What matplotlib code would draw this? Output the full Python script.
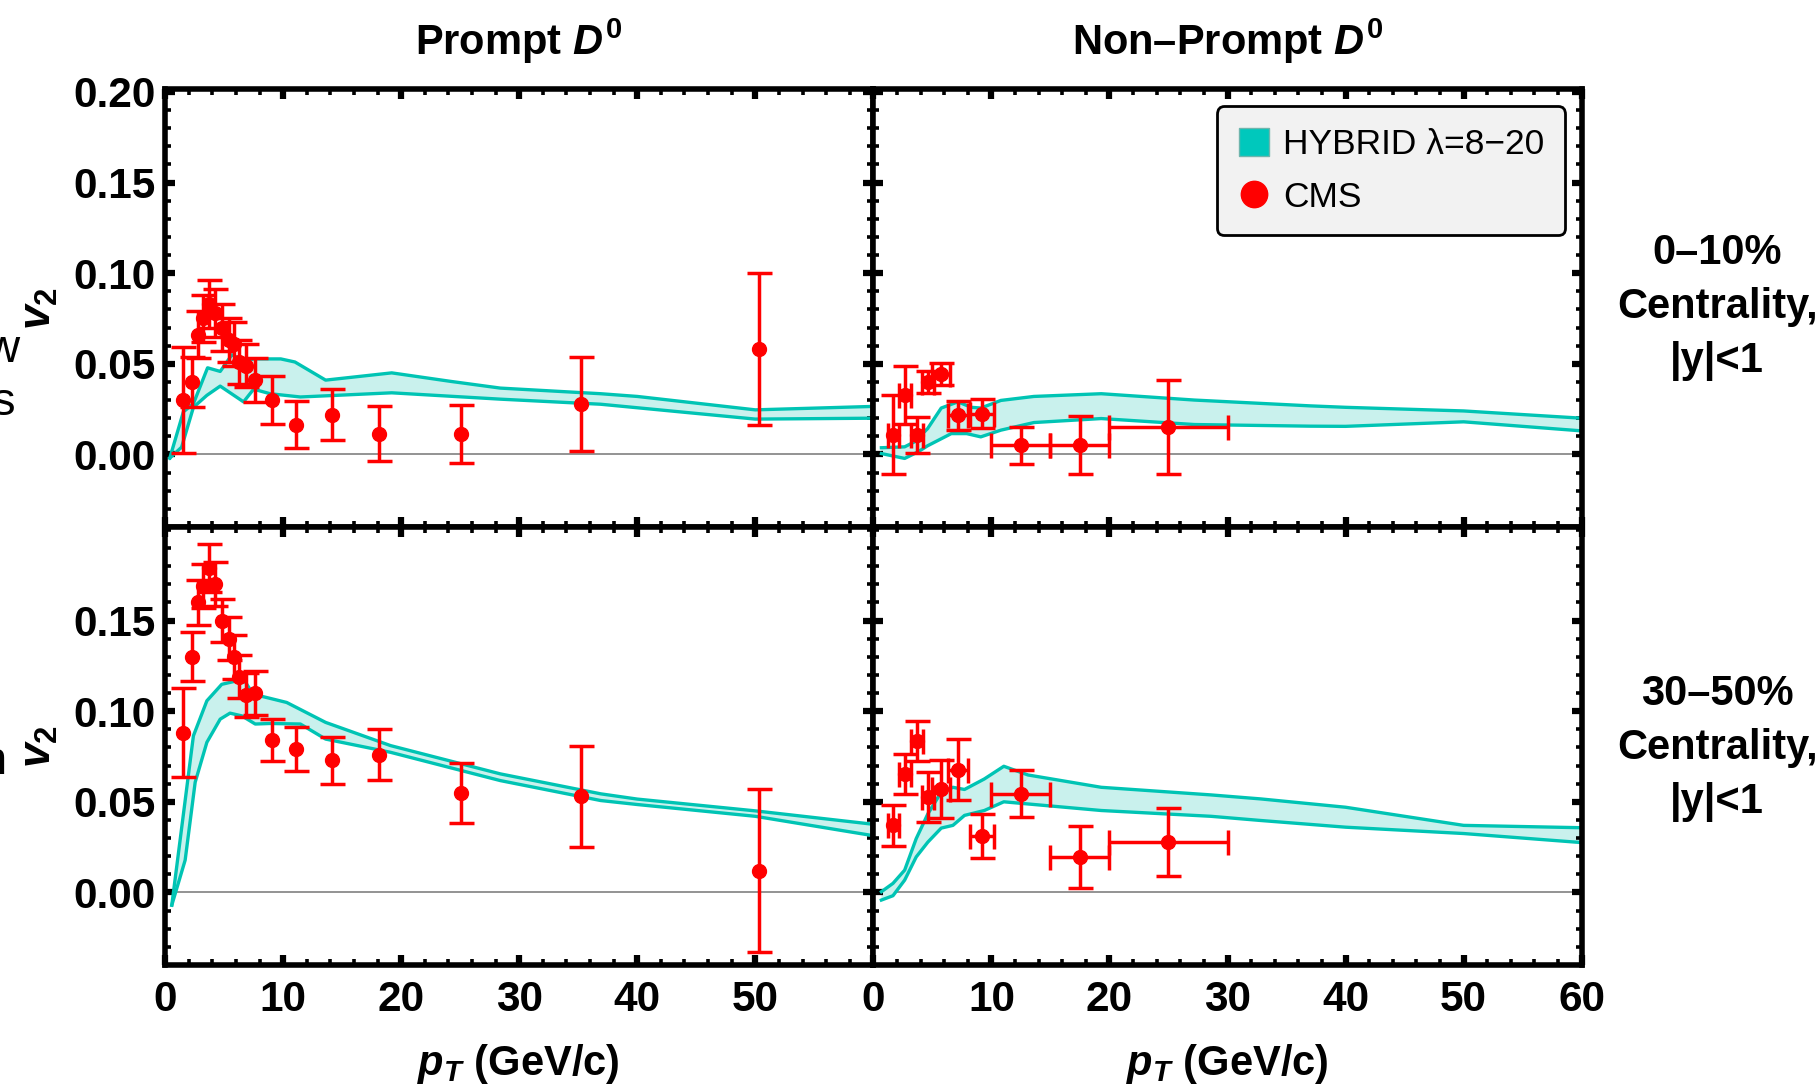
import numpy as np
import matplotlib
matplotlib.use("Agg")
import matplotlib.pyplot as plt
from matplotlib.patches import Patch
from matplotlib.lines import Line2D
from matplotlib.ticker import MultipleLocator, FixedLocator, FormatStrFormatter

plt.rcParams['font.family'] = ['Liberation Sans', 'DejaVu Sans']
plt.rcParams['font.weight'] = 'bold'
plt.rcParams['mathtext.fontset'] = 'custom'
plt.rcParams['mathtext.rm'] = 'Liberation Sans:bold'
plt.rcParams['mathtext.it'] = 'Liberation Sans:italic:bold'
plt.rcParams['mathtext.bf'] = 'Liberation Sans:bold'

# CMS prompt D0 v2
pt_prompt = [1.5, 2.26, 2.83, 3.2, 3.76, 4.24, 4.8, 5.38, 5.8, 6.3, 6.88, 7.58,
             9.05, 11.1, 14.1, 18.1, 25.1, 35.2, 50.3]
v2_prompt_010 = [0.030, 0.040, 0.066, 0.075, 0.083, 0.078, 0.070, 0.063, 0.061, 0.051,
                 0.049, 0.041, 0.030, 0.0165, 0.022, 0.0115, 0.0115, 0.028, 0.058]
err_prompt_010 = [0.029, 0.014, 0.013, 0.013, 0.013, 0.013, 0.013, 0.012, 0.012, 0.012,
                  0.012, 0.012, 0.013, 0.013, 0.014, 0.015, 0.016, 0.026, 0.042]
v2_prompt_3050 = [0.088, 0.130, 0.160, 0.169, 0.179, 0.170, 0.150, 0.140, 0.130, 0.119,
                  0.109, 0.110, 0.084, 0.079, 0.073, 0.076, 0.055, 0.053, 0.012]
err_prompt_3050 = [0.0245, 0.0135, 0.0125, 0.012, 0.013, 0.012, 0.012, 0.012, 0.012, 0.012,
                   0.012, 0.012, 0.0115, 0.012, 0.013, 0.014, 0.0165, 0.028, 0.045]

# CMS non-prompt D0 v2
pt_np = [1.7, 2.65, 3.7, 4.65, 5.75, 7.15, 9.2, 12.5, 17.5, 25.0]
xerr_np = [0.5, 0.5, 0.5, 0.5, 0.75, 0.85, 1.0, 2.5, 2.5, 5.0]
v2_np_010 = [0.011, 0.0326, 0.0106, 0.040, 0.0445, 0.0216, 0.0225, 0.005, 0.005, 0.015]
err_np_010 = [0.022, 0.016, 0.010, 0.006, 0.006, 0.008, 0.008, 0.010, 0.016, 0.026]
v2_np_3050 = [0.037, 0.0654, 0.0837, 0.0526, 0.0571, 0.0678, 0.0311, 0.0544, 0.0196, 0.0278]
err_np_3050 = [0.0113, 0.011, 0.011, 0.014, 0.016, 0.017, 0.012, 0.013, 0.017, 0.019]

# HYBRID band edges, prompt 0-10%
hp010_up_x = [0.4, 1.55, 2.4, 3.6, 4.67, 5.66, 6.8, 7.5, 9.8, 11.0, 13.6, 19.2, 24.2, 28.4, 36.9, 40, 50, 60]
hp010_up_y = [-0.002, 0.0235, 0.028, 0.0478, 0.0458, 0.055, 0.0513, 0.0527, 0.0527, 0.051, 0.041,
              0.045, 0.0403, 0.0366, 0.0335, 0.032, 0.0246, 0.0265]
hp010_lo_x = [0.4, 1.4, 2.4, 3.54, 4.67, 6.65, 7.5, 8.9, 11.46, 19.2, 28.4, 36.9, 50, 60]
hp010_lo_y = [-0.002, 0.004, 0.026, 0.0326, 0.0377, 0.029, 0.036, 0.0335, 0.0317, 0.034,
              0.0305, 0.0277, 0.0195, 0.020]

# HYBRID band edges, prompt 30-50%
hp3050_up_x = [0.57, 2.4, 3.54, 4.8, 6.65, 7.2, 8.06, 10.3, 13.6, 19.1, 28.4, 36.9, 40, 50, 60]
hp3050_up_y = [-0.007, 0.0864, 0.1057, 0.1148, 0.1176, 0.112, 0.1084, 0.1048, 0.0938, 0.081,
               0.0654, 0.0544, 0.0515, 0.045, 0.0376]
hp3050_lo_x = [0.57, 1.7, 2.55, 3.54, 4.67, 5.5, 6.5, 7.64, 8.9, 11.46, 13.6, 19.1, 28.4, 36.9,
               40, 50, 60]
hp3050_lo_y = [-0.007, 0.0178, 0.0608, 0.0828, 0.0956, 0.0989, 0.0974, 0.0929, 0.0932, 0.0929,
               0.0846, 0.0773, 0.0617, 0.0507, 0.0485, 0.042, 0.0313]

# HYBRID band edges, non-prompt 0-10%
hn010_up_x = [0.68, 2.65, 3.5, 4.6, 5.75, 7.16, 8.3, 9.1, 10.8, 13.6, 19.3, 27.2, 37, 40, 50, 60]
hn010_up_y = [0.0037, 0.0042, 0.007, 0.0143, 0.0256, 0.029, 0.026, 0.0256, 0.0298, 0.032, 0.0335,
              0.030, 0.0268, 0.026, 0.024, 0.020]
hn010_lo_x = [0.68, 2.65, 3.8, 4.6, 6.6, 7.9, 9.1, 10.8, 13.6, 19.3, 27.2, 37, 40, 50, 60]
hn010_lo_y = [0.0005, -0.0022, 0.0015, 0.0048, 0.0115, 0.0115, 0.0097, 0.0134, 0.0176, 0.0198,
              0.0165, 0.0156, 0.0155, 0.018, 0.013]

# HYBRID band edges, non-prompt 30-50%
hn3050_up_x = [0.68, 1.66, 2.65, 3.63, 4.62, 5.75, 6.74, 7.72, 9.4, 11.05, 13.1, 19.3, 28.6, 32.8,
               40, 50, 60]
hn3050_up_y = [0.0004, 0.005, 0.0123, 0.0297, 0.0434, 0.0553, 0.058, 0.0568, 0.0626, 0.0696,
               0.0648, 0.058, 0.0538, 0.0516, 0.047, 0.037, 0.0357]
hn3050_lo_x = [0.68, 1.66, 2.65, 3.63, 4.62, 5.75, 6.74, 7.72, 9.4, 11.05, 19.3, 28.6, 32.8, 40, 50, 60]
hn3050_lo_y = [-0.0042, -0.0018, 0.0068, 0.0196, 0.0278, 0.0355, 0.037, 0.0425, 0.0452, 0.050,
               0.0452, 0.042, 0.0397, 0.036, 0.0325, 0.0275]

teal = '#00c4b4'
fill_teal = '#c9f1ed'
red = '#ff0000'


def draw_band(ax, xu, yu, xl, yl):
    ax.fill(np.r_[xu, xl[::-1]], np.r_[yu, yl[::-1]], color=fill_teal, lw=0, zorder=1)
    ax.plot(xu, yu, color=teal, lw=2.4, zorder=2)
    ax.plot(xl, yl, color=teal, lw=2.4, zorder=2)


def draw_cms(ax, x, y, yerr, xerr=None):
    ax.errorbar(x, y, yerr=yerr, xerr=xerr, fmt='o', color=red, ms=10,
                elinewidth=2.5, capsize=9, capthick=2.5, zorder=4)


fig = plt.figure(figsize=(18.18, 10.89), dpi=100)
gs = fig.add_gridspec(2, 2, left=0.0908, right=0.870, top=0.9183, bottom=0.1139,
                      wspace=0, hspace=0)
axes = [[fig.add_subplot(gs[r, c]) for c in range(2)] for r in range(2)]

draw_band(axes[0][0], hp010_up_x, hp010_up_y, hp010_lo_x, hp010_lo_y)
draw_cms(axes[0][0], pt_prompt, v2_prompt_010, err_prompt_010)
draw_band(axes[1][0], hp3050_up_x, hp3050_up_y, hp3050_lo_x, hp3050_lo_y)
draw_cms(axes[1][0], pt_prompt, v2_prompt_3050, err_prompt_3050)
draw_band(axes[0][1], hn010_up_x, hn010_up_y, hn010_lo_x, hn010_lo_y)
draw_cms(axes[0][1], pt_np, v2_np_010, err_np_010, xerr_np)
draw_band(axes[1][1], hn3050_up_x, hn3050_up_y, hn3050_lo_x, hn3050_lo_y)
draw_cms(axes[1][1], pt_np, v2_np_3050, err_np_3050, xerr_np)

for r in range(2):
    for c in range(2):
        ax = axes[r][c]
        ax.set_xlim(0, 60)
        ax.set_ylim(-0.04, 0.2016)
        ax.axhline(0, color='#808080', lw=1.2, zorder=0)
        if c == 0:
            ax.xaxis.set_major_locator(FixedLocator([0, 10, 20, 30, 40, 50]))
        else:
            ax.xaxis.set_major_locator(MultipleLocator(10))
        ax.xaxis.set_minor_locator(MultipleLocator(2))
        if r == 0:
            ax.yaxis.set_major_locator(FixedLocator([0, 0.05, 0.10, 0.15, 0.20]))
        else:
            ax.yaxis.set_major_locator(FixedLocator([0, 0.05, 0.10, 0.15]))
        ax.yaxis.set_minor_locator(MultipleLocator(0.01))
        ax.yaxis.set_major_formatter(FormatStrFormatter('%.2f'))
        ax.tick_params(which='both', direction='in', top=True, right=True, labelsize=30.5)
        ax.tick_params(which='major', length=7, width=4.5)
        ax.tick_params(which='minor', length=4.5, width=2.6)
        ax.tick_params(axis='y', pad=7)
        ax.tick_params(axis='x', pad=11)
        ax.tick_params(labelbottom=(r == 1), labelleft=(c == 0))
        for s in ax.spines.values():
            s.set_linewidth(4)

handles = [Patch(facecolor='#00c8bc', edgecolor='#6fb5ad', lw=1),
           Line2D([], [], marker='o', ls='none', color=red, ms=19)]
leg = axes[0][1].legend(handles, ['HYBRID λ=8−20', 'CMS'], loc='upper right',
                        bbox_to_anchor=(0.977, 0.96), borderaxespad=0,
                        prop={'size': 25.5, 'weight': 'normal'}, fancybox=True, framealpha=1,
                        facecolor='#f2f2f2', edgecolor='black', handlelength=0.85,
                        handleheight=0.85, handletextpad=0.4, labelspacing=0.55, borderpad=0.6)
leg.get_frame().set_linewidth(2)

# column titles and axis labels
fig.text(0.2852, 0.962, r'Prompt $D^{\mathrm{0}}$', ha='center', va='center', fontsize=30)
fig.text(0.675, 0.962, r'Non–Prompt $D^{\mathrm{0}}$', ha='center', va='center', fontsize=30)
fig.text(0.2852, 0.023, r'$p_T$ (GeV/c)', ha='center', va='center', fontsize=30)
fig.text(0.675, 0.023, r'$p_T$ (GeV/c)', ha='center', va='center', fontsize=30)
fig.text(0.022, 0.717, r'$v_{\mathrm{2}}$', rotation=90, ha='center', va='center', fontsize=32)
fig.text(0.022, 0.3145, r'$v_{\mathrm{2}}$', rotation=90, ha='center', va='center', fontsize=32)

# row labels on the right
fig.text(0.9445, 0.718, '0–10%\nCentrality,\n|y|<1', ha='center', va='center',
         fontsize=30, linespacing=1.45, multialignment='center')
fig.text(0.9445, 0.313, '30–50%\nCentrality,\n|y|<1', ha='center', va='center',
         fontsize=30, linespacing=1.45, multialignment='center')

# text cut off at the left edge
fig.text(19 / 1818, 1 - 350 / 1089, 'w', ha='right', va='center', fontsize=34, weight='normal')
fig.text(15 / 1818, 1 - 403 / 1089, 's', ha='right', va='center', fontsize=34, weight='normal')
fig.text(7 / 1818, 1 - 762 / 1089, 'n', ha='right', va='center', fontsize=34, weight='normal')

fig.savefig('out.png', dpi=100)
